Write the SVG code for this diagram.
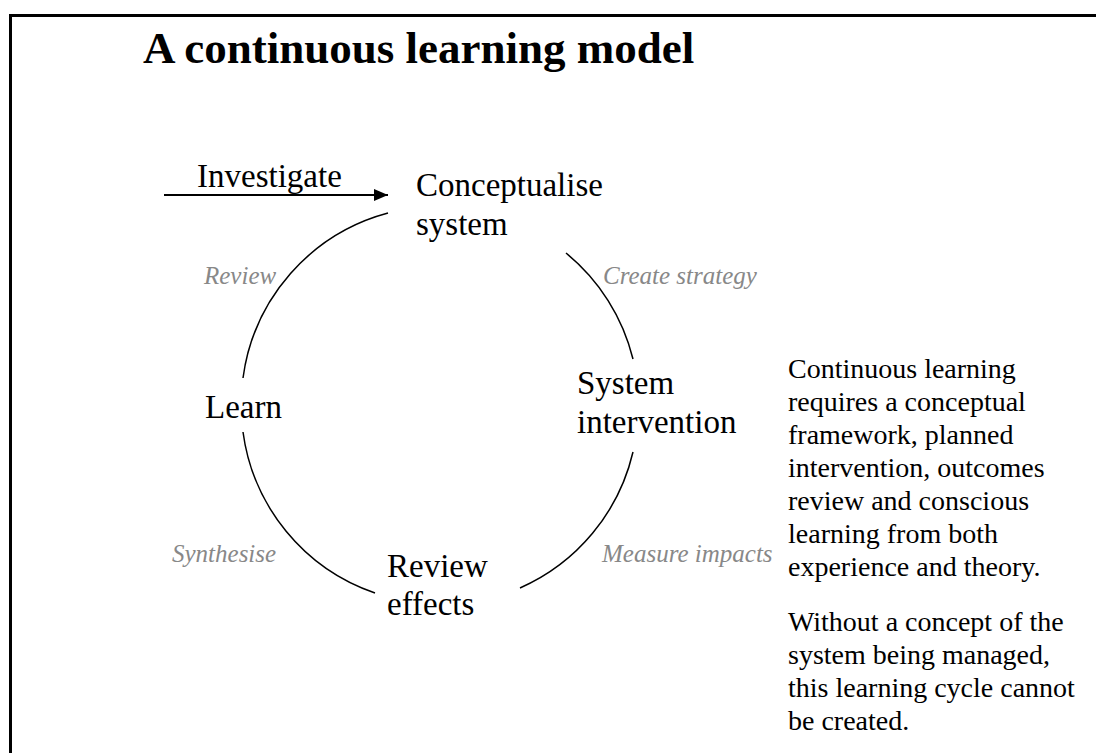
<svg xmlns="http://www.w3.org/2000/svg" width="1096" height="753" viewBox="0 0 1096 753">
<defs>
<style>
.t{font-family:"Liberation Serif","Times New Roman",serif;fill:#000}
.n{font-size:33px}
.lab{font-size:25px;font-style:italic;fill:#888}
.body{font-size:28px}
.arc{fill:none;stroke:#000;stroke-width:1.5}
</style>
<marker id="ah" viewBox="0 0 14 12" refX="14" refY="6" markerWidth="14" markerHeight="12" orient="auto" markerUnits="userSpaceOnUse">
<path d="M0,0 L14,6 L0,12 z" fill="#000"/>
</marker>
</defs>
<rect width="1096" height="753" fill="#fff"/>
<path d="M10.5,753 V15.5 H1096" fill="none" stroke="#000" stroke-width="3"/>
<text class="t" x="143" y="63" font-size="45" font-weight="bold">A continuous learning model</text>
<g id="connectors">
<path class="arc" d="M388,213 A198,198 0 0 0 243,378"/>
<path class="arc" d="M243,432 A198,198 0 0 0 375,593"/>
<path class="arc" d="M520,588 A198,198 0 0 0 633,452"/>
<path class="arc" d="M633,359 A198,198 0 0 0 566,253"/>
<line x1="164" y1="195" x2="388" y2="195" stroke="#000" stroke-width="2" marker-end="url(#ah)"/>
<text class="t n" x="197" y="187">Investigate</text>
<text class="t lab" x="204" y="284">Review</text>
<text class="t lab" x="603" y="284">Create strategy</text>
<text class="t lab" x="602" y="562">Measure impacts</text>
<text class="t lab" x="172" y="562">Synthesise</text>
</g>
<g id="conceptualise"><text class="t n" x="416" y="196">Conceptualise</text><text class="t n" x="416" y="235">system</text></g>
<g id="intervention"><text class="t n" x="577" y="394">System</text><text class="t n" x="577" y="433">intervention</text></g>
<g id="review"><text class="t n" x="387" y="577">Review</text><text class="t n" x="387" y="615">effects</text></g>
<g id="learn"><text class="t n" x="205" y="418">Learn</text></g>
<g id="note">
<text class="t body" x="788">
<tspan x="788" y="378">Continuous learning</tspan>
<tspan x="788" y="411">requires a conceptual</tspan>
<tspan x="788" y="444">framework, planned</tspan>
<tspan x="788" y="477">intervention, outcomes</tspan>
<tspan x="788" y="510">review and conscious</tspan>
<tspan x="788" y="543">learning from both</tspan>
<tspan x="788" y="576">experience and theory.</tspan>
<tspan x="788" y="631">Without a concept of the</tspan>
<tspan x="788" y="664">system being managed,</tspan>
<tspan x="788" y="697">this learning cycle cannot</tspan>
<tspan x="788" y="730">be created.</tspan>
</text>
</g>
</svg>
